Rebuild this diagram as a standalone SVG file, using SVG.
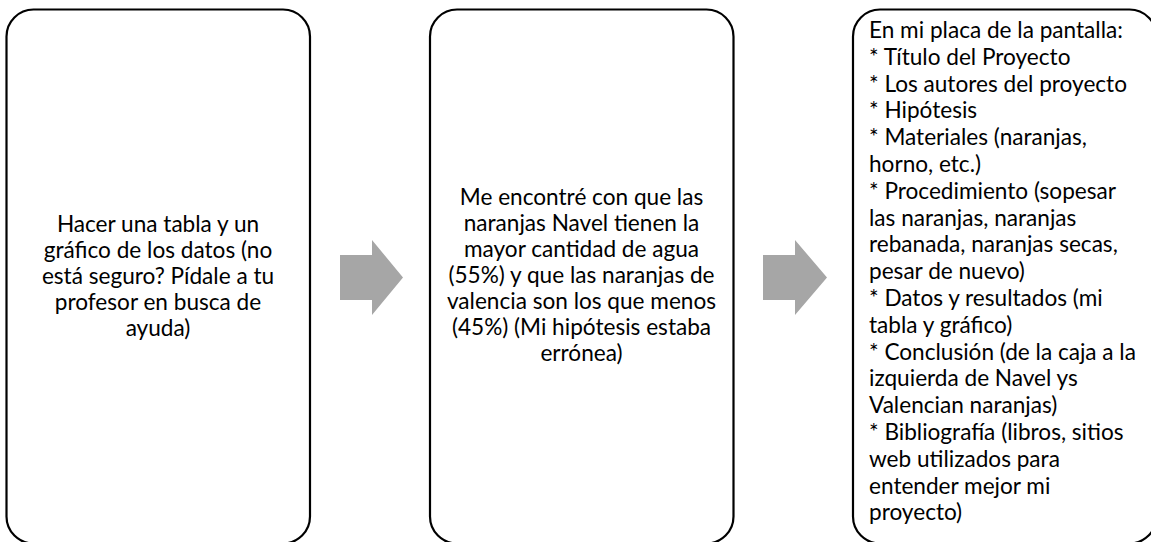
<svg xmlns="http://www.w3.org/2000/svg" width="1151" height="542" viewBox="0 0 1151 542">
<style>
.box{fill:#fff;stroke:#000;stroke-width:2.2}
.arr{fill:#a6a6a6}
text{font-family:Lato,"Open Sans","Liberation Sans",sans-serif;font-size:22.6px;fill:#000}
.c{text-anchor:middle}
</style>
<rect width="1151" height="542" fill="#fff"/>
<g id="connectors">
<path class="arr" d="M340,255 H372 V240 L403,277.5 L372,315 V300 H340 Z"/>
<path class="arr" d="M763,255 H795 V240 L827,277.5 L795,315 V300 H763 Z"/>
</g>
<g id="node1">
<rect class="box" x="6.5" y="9.5" width="303.5" height="534" rx="27"/>
<text class="c" x="158" y="231.5">Hacer una tabla y un</text>
<text class="c" x="158" y="257.5">gráfico de los datos (no</text>
<text class="c" x="158" y="283.5">está seguro? Pídale a tu</text>
<text class="c" x="158" y="309.5">profesor en busca de</text>
<text class="c" x="158" y="335.5">ayuda)</text>
</g>
<g id="node2">
<rect class="box" x="430" y="9.5" width="303.5" height="534" rx="27"/>
<text class="c" x="581.5" y="205">Me encontré con que las</text>
<text class="c" x="581.5" y="231">naranjas Navel tienen la</text>
<text class="c" x="581.5" y="257">mayor cantidad de agua</text>
<text class="c" x="581.5" y="283">(55%) y que las naranjas de</text>
<text class="c" x="581.5" y="309">valencia son los que menos</text>
<text class="c" x="581.5" y="335">(45%) (Mi hipótesis estaba</text>
<text class="c" x="581.5" y="361">errónea)</text>
</g>
<g id="node3">
<rect class="box" x="853" y="9.5" width="303.5" height="534" rx="27"/>
<text x="869" y="38">En mi placa de la pantalla:</text>
<text x="869" y="64.8">* Título del Proyecto</text>
<text x="869" y="91.6">* Los autores del proyecto</text>
<text x="869" y="118.4">* Hipótesis</text>
<text x="869" y="145.2">* Materiales (naranjas,</text>
<text x="869" y="172">horno, etc.)</text>
<text x="869" y="198.8">* Procedimiento (sopesar</text>
<text x="869" y="225.6">las naranjas, naranjas</text>
<text x="869" y="252.4">rebanada, naranjas secas,</text>
<text x="869" y="279.2">pesar de nuevo)</text>
<text x="869" y="306">* Datos y resultados (mi</text>
<text x="869" y="332.8">tabla y gráfico)</text>
<text x="869" y="359.6">* Conclusión (de la caja a la</text>
<text x="869" y="386.4">izquierda de Navel ys</text>
<text x="869" y="413.2">Valencian naranjas)</text>
<text x="869" y="440">* Bibliografía (libros, sitios</text>
<text x="869" y="466.8">web utilizados para</text>
<text x="869" y="493.6">entender mejor mi</text>
<text x="869" y="520.4">proyecto)</text>
</g>
</svg>
